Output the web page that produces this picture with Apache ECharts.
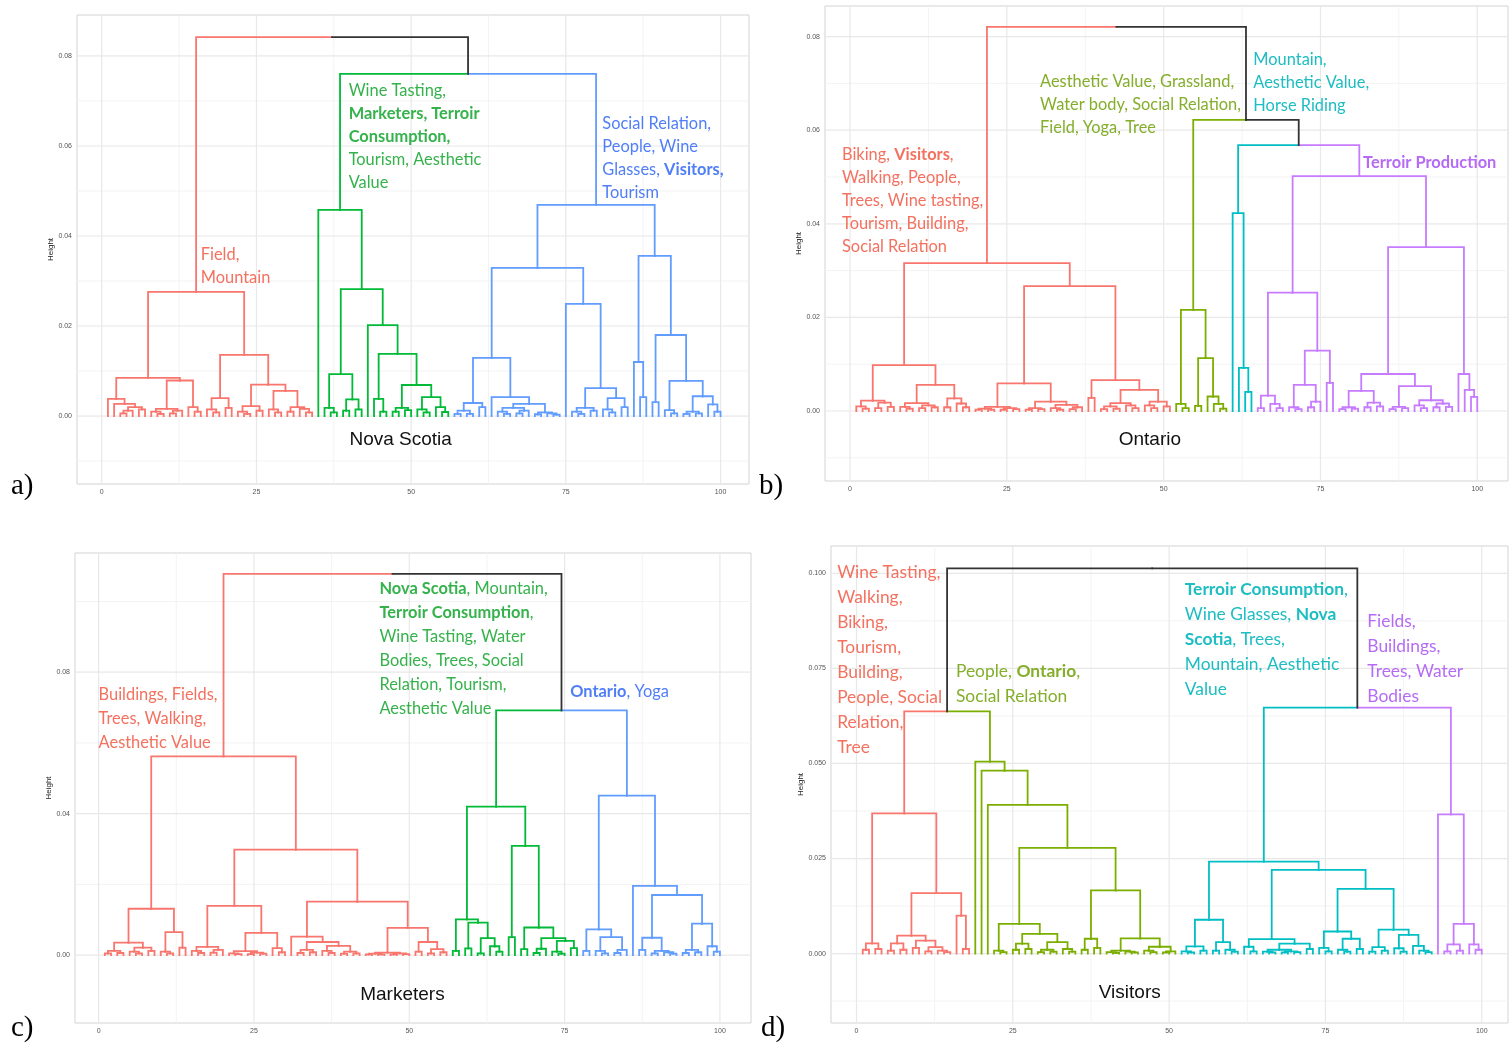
<!DOCTYPE html>
<html><head><meta charset="utf-8">
<script src="https://cdn.jsdelivr.net/npm/echarts@6/dist/echarts.min.js"></script>
<style>html,body{margin:0;padding:0;background:#fff}#c{width:1509px;height:1048px}</style>
</head><body><div id="c"></div>
<script>
// ---------------- DATA ----------------
// Dendrogram nodes: [height (x1000), left, right]; 0 = a leaf. Leaves are numbered 1..100 in order.
// Panel a) Nova Scotia
const nsRed = [27.6,
  [8.5,
    [3.8, 0, [2.7, 0, [2.0, [1.2, [0.6, 0, 0], 0], [1.5, 0, 0]]]],
    [7.9, [1.6, [1.0, 0, [0.5, 0, 0]], [1.2, [0.6, 0, 0], 0]], [2.0, 0, [1.0, 0, 0]]]],
  [13.6,
    [4.0, [1.5, 0, [0.8, 0, 0]], [1.8, 0, 0]],
    [7.0, [2.2, [1.0, 0, [0.5, 0, 0]], [1.2, 0, 0]],
          [5.6, [1.5, 0, [0.8, 0, 0]], [2.0, [1.0, 0, 0], [1.6, 0, [0.8, 0, 0]]]]]]];
const nsGreen = [45.8, 0,
  [28.2,
    [9.3, [1.8, 0, [0.8, 0, 0]], [3.7, [1.2, 0, 0], [1.5, 0, 0]]],
    [20.2, 0,
      [13.8, [3.8, 0, [1.0, 0, 0]],
             [6.9, [1.8, [1.0, 0, 0], [1.3, 0, 0]], [4.2, [1.5, 0, [0.8, 0, 0]], [2.0, 0, [0.9, 0, 0]]]]]]]];
const nsBlue = [46.9,
  [32.9,
    [12.9,
      [2.9, [1.2, [0.5, 0, 0], [0.5, 0, 0]], [2.0, 0, 0]],
      [4.2, 0, [2.7, [1.8, [1.0, 0, [0.5, 0, 0]], [1.2, [0.6, 0, 0], 0]], [0.8, [0.4, 0, 0], [0.6, 0, [0.3, 0, 0]]]]]],
    [24.9, 0, [6.2, [1.8, [1.0, 0, [0.5, 0, 0]], [1.2, 0, 0]], [4.0, [1.5, 0, [0.8, 0, 0]], [2.0, 0, 0]]]]],
  [35.6,
    [12.0, 0, [4.2, 0, 0]],
    [18.0, [3.1, 0, 0], [7.8, [1.3, 0, [0.6, 0, 0]], [4.4, [1.0, [0.5, 0, 0], [0.6, 0, 0]], [2.6, 0, [1.0, 0, 0]]]]]]];
const nsTop = [84.2, 'A', [76.0, 'B', 'C']];

// Panel b) Ontario
const onRed = [31.6,
  [9.8,
    [2.2, [1.0, 0, [0.5, 0, 0]], [1.8, [0.6, 0, 0], [0.9, 0, 0]]],
    [5.6, [1.7, [0.9, 0, [0.5, 0, 0]], [1.2, [0.6, 0, 0], [0.8, 0, 0]]], [2.7, [0.8, 0, 0], [1.6, 0, [0.8, 0, 0]]]]],
  [26.7,
    [5.9,
      [0.9, [0.5, [0.3, 0, 0], [0.3, 0, 0]], [0.6, [0.3, 0, 0], [0.4, 0, 0]]],
      [2.0, [0.6, [0.3, 0, 0], [0.4, 0, 0]], [1.3, [0.6, 0, [0.3, 0, 0]], [0.8, [0.4, 0, 0], 0]]]],
    [6.6, [2.8, 0, 0],
      [4.5, [1.7, [1.0, [0.4, 0, 0], [0.5, 0, 0]], [1.2, 0, [0.6, 0, 0]]], [2.0, [1.2, 0, [0.6, 0, 0]], [1.0, 0, 0]]]]]];
const onOlive = [21.6, [1.5, 0, [0.6, 0, 0]], [11.3, [1.1, 0, 0], [3.1, 0, [1.5, 0, [0.5, 0, 0]]]]];
const onCyan = [42.3, 0, [9.2, 0, [4.1, 0, 0]]];
const onPurple = [50.2,
  [25.3,
    [3.3, [0.6, 0, 0], [1.5, 0, [0.6, 0, 0]]],
    [12.9, [5.6, [0.8, 0, [0.4, 0, 0]], [2.0, [0.8, 0, 0], 0]], [6.0, 0, 0]]],
  [35.0,
    [7.9,
      [4.3, [0.8, [0.4, 0, 0], [0.5, 0, 0]], [1.8, [0.8, 0, 0], [1.0, 0, 0]]],
      [5.3, [0.9, [0.4, 0, 0], [0.6, 0, 0]], [2.3, [1.2, 0, [0.6, 0, 0]], [1.6, [0.8, 0, 0], [0.9, 0, 0]]]]],
    [7.9, 0, [4.5, 0, [3.0, 0, 0]]]]];
const onTop = [82.1, 'A', [62.2, 'B', [56.8, 'C', 'D']]];

// Panel c) Marketers
const mkRed = [56.2,
  [13.1,
    [3.5, [1.2, [0.5, 0, 0], [0.6, 0, 0]], [2.1, [1.0, 0, [0.5, 0, 0]], [1.2, 0, 0]]],
    [6.5, [1.0, 0, [0.5, 0, 0]], [2.1, 0, 0]]],
  [29.8,
    [13.9,
      [2.3, [1.2, 0, [0.6, 0, 0]], [1.5, [0.7, 0, 0], 0]],
      [6.3, [1.1, [0.5, 0, [0.3, 0, 0]], [0.7, [0.3, 0, 0], [0.4, 0, 0]]], [2.0, 0, [0.8, 0, 0]]]],
    [15.1,
      [5.2, 0, [3.7, [1.5, [0.6, 0, 0], [0.8, 0, 0]], [2.6, [1.2, 0, [0.6, 0, 0]], [1.0, [0.4, 0, 0], [0.5, 0, 0]]]]],
      [7.7, [0.7, [0.4, [0.2, 0, 0], [0.2, 0, 0]], [0.5, [0.2, 0, 0], [0.3, 0, 0]]],
            [3.7, [1.0, 0, 0], [1.7, [0.5, 0, 0], [0.8, 0, 0]]]]]]];
const mkGreen = [42.0,
  [10.1, [1.2, 0, 0], [9.2, [1.9, 0, 0], [4.8, [0.5, 0, 0], [2.5, 0, [1.0, 0, 0]]]]],
  [30.9, [5.1, 0, 0], [7.8, [1.7, 0, 0], [4.8, [1.8, [0.6, 0, 0], 0], [4.0, [1.0, 0, [0.4, 0, 0]], [2.0, 0, 0]]]]]];
const mkBlue = [45.1,
  [7.3, [1.2, 0, 0], [5.1, [1.2, 0, [0.5, 0, 0]], [1.5, [0.6, 0, 0], 0]]],
  [19.6, 0,
    [17.0, [4.9, [1.5, 0, 0], [1.2, [0.5, 0, 0], [0.8, 0, [0.4, 0, 0]]]],
           [8.9, [1.5, [0.6, 0, 0], [0.8, 0, 0]], [2.5, 0, [1.0, 0, 0]]]]]];
const mkTop = [107.8, 'A', [69.2, 'B', 'C']];

// Panel d) Visitors
const vsRed = [36.9, [2.7, [1.0, 0, 0], [1.2, 0, 0]],
  [15.9,
    [4.7, [2.7, [0.8, 0, 0], [1.0, 0, 0]], [3.4, [1.5, 0, 0], [1.7, [0.6, 0, 0], [0.8, 0, [0.4, 0, 0]]]]],
    [10.0, 0, [1.2, 0, 0]]]];
const vsOlive = [50.5, 0, [48.1, 0, [39.1, 0,
  [27.8,
    [7.8, [0.8, 0, [0.4, 0, 0]],
          [5.2, [2.6, [1.0, 0, 0], [1.2, 0, 0]], [3.0, [1.0, [0.4, 0, 0], [0.5, 0, 0]], [1.2, 0, [0.5, 0, 0]]]]],
    [16.6, [3.9, [1.0, 0, 0], [1.5, 0, 0]],
           [4.0, [0.8, [0.4, 0, [0.2, 0, 0]], [0.5, 0, [0.3, 0, 0]]], [1.8, [0.8, 0, [0.4, 0, 0]], [0.6, [0.3, 0, 0], 0]]]]]]]];
const vsCyan = [24.2,
  [8.9, [1.9, [0.6, 0, [0.3, 0, 0]], [0.8, 0, 0]], [3.0, [0.8, 0, 0], [1.0, 0, [0.5, 0, 0]]]],
  [22.0,
    [3.8, [1.8, 0, [0.6, 0, 0]], [2.6, [1.0, [0.5, 0, [0.3, 0, 0]], [0.6, [0.3, 0, 0], [0.4, 0, 0]]], [1.2, 0, 0]]],
    [17.0,
      [5.8, [1.5, 0, [0.6, 0, 0]], [3.9, [1.0, 0, [0.5, 0, 0]], [1.2, 0, 0]]],
      [6.3, [1.7, [0.5, 0, 0], [0.8, 0, 0]], [4.9, [1.4, 0, [0.5, 0, 0]], [2.0, 0, [0.8, 0, [0.4, 0, 0]]]]]]]];
const vsPurple = [36.6, 0, [7.8, [2.4, [0.6, 0, 0], [0.8, 0, 0]], [2.4, 0, [1.0, 0, 0]]]];
const vsTop = [101.3, [63.7, 'A', 'B'], [64.7, 'C', 'D']];

// Axis ticks
const xTicks = [0, 25, 50, 75, 100];
const xMinor = [12.5, 37.5, 62.5, 87.5];
const yTicksAB = [0, 0.02, 0.04, 0.06, 0.08];
const yMinorAB = [-0.01, 0.01, 0.03, 0.05, 0.07];
const yTicksC = [0, 0.04, 0.08];
const yMinorC = [0.02, 0.06, 0.10];
const yTicksD = [0, 0.025, 0.05, 0.075, 0.1];
const yMinorD = [-0.0125, 0.0125, 0.0375, 0.0625, 0.0875];

// Titles and cluster labels (** marks bold)
const titles = ['Nova Scotia', 'Ontario', 'Marketers', 'Visitors'];
const tags = ['a)', 'b)', 'c)', 'd)'];
const nsLabelRed = ['Field,', 'Mountain'];
const nsLabelGreen = ['Wine Tasting,', '**Marketers, Terroir**', '**Consumption,**', 'Tourism, Aesthetic', 'Value'];
const nsLabelBlue = ['Social Relation,', 'People, Wine', 'Glasses, **Visitors,**', 'Tourism'];
const onLabelRed = ['Biking, **Visitors**,', 'Walking, People,', 'Trees, Wine tasting,', 'Tourism, Building,', 'Social Relation'];
const onLabelOlive = ['Aesthetic Value, Grassland,', 'Water body, Social Relation,', 'Field, Yoga, Tree'];
const onLabelCyan = ['Mountain,', 'Aesthetic Value,', 'Horse Riding'];
const onLabelPurple = ['**Terroir Production**'];
const mkLabelRed = ['Buildings, Fields,', 'Trees, Walking,', 'Aesthetic Value'];
const mkLabelGreen = ['**Nova Scotia**, Mountain,', '**Terroir Consumption**,', 'Wine Tasting, Water', 'Bodies, Trees, Social', 'Relation, Tourism,', 'Aesthetic Value'];
const mkLabelBlue = ['**Ontario**, Yoga'];
const vsLabelRed = ['Wine Tasting,', 'Walking,', 'Biking,', 'Tourism,', 'Building,', 'People, Social', 'Relation,', 'Tree'];
const vsLabelOlive = ['People, **Ontario**,', 'Social Relation'];
const vsLabelCyan = ['**Terroir Consumption**,', 'Wine Glasses, **Nova**', '**Scotia**, Trees,', 'Mountain, Aesthetic', 'Value'];
const vsLabelPurple = ['Fields,', 'Buildings,', 'Trees, Water', 'Bodies'];

// ---------------- STYLE / LAYOUT ----------------
const RED = '#F8766D', GREEN = '#00BA38', BLUE = '#619CFF', OLIVE = '#7CAE00', CYAN = '#00BFC4', PURPLE = '#C77CFF';
const T_RED = '#F4715F', T_GREEN = '#35B24C', T_BLUE = '#4F7EF7', T_OLIVE = '#84AE2C', T_CYAN = '#1DBDC2', T_PURPLE = '#B56BF5';
const BLACK = '#333333';

const PANELS = [
  { top: nsTop, clusters: {A: nsRed, B: nsGreen, C: nsBlue}, colors: {A: RED, B: GREEN, C: BLUE},
    box: {left: 77, top: 15, width: 672, height: 469}, xr: [-4.0, 104.6], yr: [-0.0151, 0.0891],
    yTicks: yTicksAB, yMinor: yMinorAB, digits: 2, nameGap: 22, fs: 16.4, lh: 23,
    labels: [
      {lines: nsLabelRed, color: T_RED, at: [16.0, 0.0383]},
      {lines: nsLabelGreen, color: T_GREEN, at: [39.9, 0.0748]},
      {lines: nsLabelBlue, color: T_BLUE, at: [80.9, 0.0676]}],
    titleAt: [48.3, -0.0053], tagPos: [11, 472] },
  { top: onTop, clusters: {A: onRed, B: onOlive, C: onCyan, D: onPurple}, colors: {A: RED, B: OLIVE, C: CYAN, D: PURPLE},
    box: {left: 825, top: 6, width: 683, height: 475}, xr: [-3.99, 104.9], yr: [-0.01496, 0.08654],
    yTicks: yTicksAB, yMinor: yMinorAB, digits: 2, nameGap: 20, fs: 16.4, lh: 23,
    labels: [
      {lines: onLabelRed, color: T_RED, at: [-1.28, 0.0572]},
      {lines: onLabelOlive, color: T_OLIVE, at: [30.3, 0.0728]},
      {lines: onLabelCyan, color: T_CYAN, at: [64.3, 0.0775]},
      {lines: onLabelPurple, color: T_PURPLE, at: [81.8, 0.0555]}],
    titleAt: [47.8, -0.0062], tagPos: [759, 472] },
  { top: mkTop, clusters: {A: mkRed, B: mkGreen, C: mkBlue}, colors: {A: RED, B: GREEN, C: BLUE},
    box: {left: 75, top: 553, width: 676, height: 470}, xr: [-3.8, 105.0], yr: [-0.0192, 0.1137],
    yTicks: yTicksC, yMinor: yMinorC, digits: 2, nameGap: 22, fs: 16.4, lh: 24,
    labels: [
      {lines: mkLabelRed, color: T_RED, at: [0.0, 0.0770]},
      {lines: mkLabelGreen, color: T_GREEN, at: [45.2, 0.1069]},
      {lines: mkLabelBlue, color: T_BLUE, at: [75.9, 0.0778]}],
    titleAt: [48.9, -0.0113], tagPos: [11, 1014] },
  { top: vsTop, clusters: {A: vsRed, B: vsOlive, C: vsCyan, D: vsPurple}, colors: {A: RED, B: OLIVE, C: CYAN, D: PURPLE},
    box: {left: 831, top: 546, width: 677, height: 477}, xr: [-4.08, 104.2], yr: [-0.01826, 0.1072],
    yTicks: yTicksD, yMinor: yMinorD, digits: 3, nameGap: 26, fs: 17.4, lh: 25,
    labels: [
      {lines: vsLabelRed, color: T_RED, at: [-3.1, 0.1036]},
      {lines: vsLabelOlive, color: T_OLIVE, at: [15.9, 0.0776]},
      {lines: vsLabelCyan, color: T_CYAN, at: [52.5, 0.0992]},
      {lines: vsLabelPurple, color: T_PURPLE, at: [81.7, 0.0907]}],
    titleAt: [43.7, -0.0102], tagPos: [761, 1014] }
];

// ---------------- BUILD ----------------
function layoutTree(top, clusters, colors) {
  const segs = [];
  let n = 0;
  function walk(node, color) {
    if (typeof node === 'string') return walk(clusters[node], colors[node]);
    if (node === 0) { n += 1; return {x: n, h: 0, color: color}; }
    const a = walk(node[1], color), b = walk(node[2], color);
    const x = (a.x + b.x) / 2, h = node[0] / 1000;
    segs.push({coords: [[a.x, a.h], [a.x, h], [x, h]], lineStyle: {color: a.color}});
    segs.push({coords: [[x, h], [b.x, h], [b.x, b.h]], lineStyle: {color: b.color}});
    return {x: x, h: h, color: color};
  }
  walk(top, BLACK);
  return segs;
}

function toRich(lines) {
  return lines.map(function (line) {
    return line.split('**').map(function (seg, i) {
      return seg ? '{' + (i % 2 ? 'b' : 'n') + '|' + seg + '}' : '';
    }).join('');
  }).join('\n');
}

const grids = [], xAxes = [], yAxes = [], series = [], graphics = [];
PANELS.forEach(function (p, i) {
  grids.push(Object.assign({show: true, borderColor: '#d3d3d3', borderWidth: 1, backgroundColor: 'transparent', containLabel: false}, p.box));
  xAxes.push({type: 'value', gridIndex: i, min: p.xr[0], max: p.xr[1],
    axisLine: {show: false}, axisTick: {show: false}, splitLine: {show: false},
    axisLabel: {customValues: xTicks, fontSize: 7, color: '#555', margin: 5, fontFamily: 'Liberation Sans'}});
  yAxes.push({type: 'value', gridIndex: i, min: p.yr[0], max: p.yr[1],
    name: 'Height', nameLocation: 'middle', nameGap: p.nameGap,
    nameTextStyle: {fontSize: 8, color: '#222', fontFamily: 'Liberation Sans'},
    axisLine: {show: false}, axisTick: {show: false}, splitLine: {show: false},
    axisLabel: {customValues: p.yTicks, fontSize: 7, color: '#555', margin: 5, fontFamily: 'Liberation Sans',
      formatter: function (v) { return v.toFixed(p.digits); }}});

  // grid lines
  const gl = [];
  xMinor.forEach(function (v) { gl.push({coords: [[v, p.yr[0]], [v, p.yr[1]]], lineStyle: {color: '#f3f3f3', width: 1}}); });
  p.yMinor.forEach(function (v) { gl.push({coords: [[p.xr[0], v], [p.xr[1], v]], lineStyle: {color: '#f3f3f3', width: 1}}); });
  xTicks.forEach(function (v) { gl.push({coords: [[v, p.yr[0]], [v, p.yr[1]]], lineStyle: {color: '#e8e8e8', width: 1.2}}); });
  p.yTicks.forEach(function (v) { gl.push({coords: [[p.xr[0], v], [p.xr[1], v]], lineStyle: {color: '#e8e8e8', width: 1.2}}); });
  series.push({type: 'lines', coordinateSystem: 'cartesian2d', xAxisIndex: i, yAxisIndex: i,
    polyline: true, silent: true, z: 1, data: gl, lineStyle: {opacity: 1}});

  // dendrogram
  series.push({type: 'lines', coordinateSystem: 'cartesian2d', xAxisIndex: i, yAxisIndex: i,
    polyline: true, silent: true, z: 3, data: layoutTree(p.top, p.clusters, p.colors),
    lineStyle: {width: 1.8, opacity: 1, cap: 'square', join: 'miter'}});

  // cluster labels
  const labelItems = p.labels.map(function (l) { return [l.at[0], l.at[1]]; });
  series.push({type: 'custom', coordinateSystem: 'cartesian2d', xAxisIndex: i, yAxisIndex: i, silent: true, z: 5,
    clip: false, data: labelItems,
    renderItem: function (params, api) {
      const l = p.labels[params.dataIndex];
      const pt = api.coord([api.value(0), api.value(1)]);
      return {type: 'text', x: pt[0], y: pt[1], style: {
        text: toRich(l.lines), fill: l.color, align: 'left', verticalAlign: 'top',
        fontFamily: 'Lato', fontSize: p.fs, lineHeight: p.lh,
        rich: {
          n: {fill: l.color, fontFamily: 'Lato', fontSize: p.fs, fontWeight: 'normal', lineHeight: p.lh},
          b: {fill: l.color, fontFamily: 'Lato', fontSize: p.fs, fontWeight: 'bold', lineHeight: p.lh}
        }}};
    }});

  // panel title
  series.push({type: 'custom', coordinateSystem: 'cartesian2d', xAxisIndex: i, yAxisIndex: i, silent: true, z: 5,
    clip: false, data: [[p.titleAt[0], p.titleAt[1]]],
    renderItem: function (params, api) {
      const pt = api.coord([api.value(0), api.value(1)]);
      return {type: 'text', x: pt[0], y: pt[1], style: {
        text: titles[i], fill: '#111', align: 'center', verticalAlign: 'middle',
        fontFamily: 'Liberation Sans', fontSize: 19}};
    }});

  graphics.push({type: 'text', left: p.tagPos[0], top: p.tagPos[1],
    style: {text: tags[i], fill: '#000', font: '29px "Liberation Serif"'}});
});

const chart = echarts.init(document.getElementById('c'), null, {renderer: 'canvas', devicePixelRatio: 1});
chart.setOption({
  backgroundColor: '#ffffff',
  animation: false,
  grid: grids, xAxis: xAxes, yAxis: yAxes, series: series, graphic: graphics
});
</script></body></html>
